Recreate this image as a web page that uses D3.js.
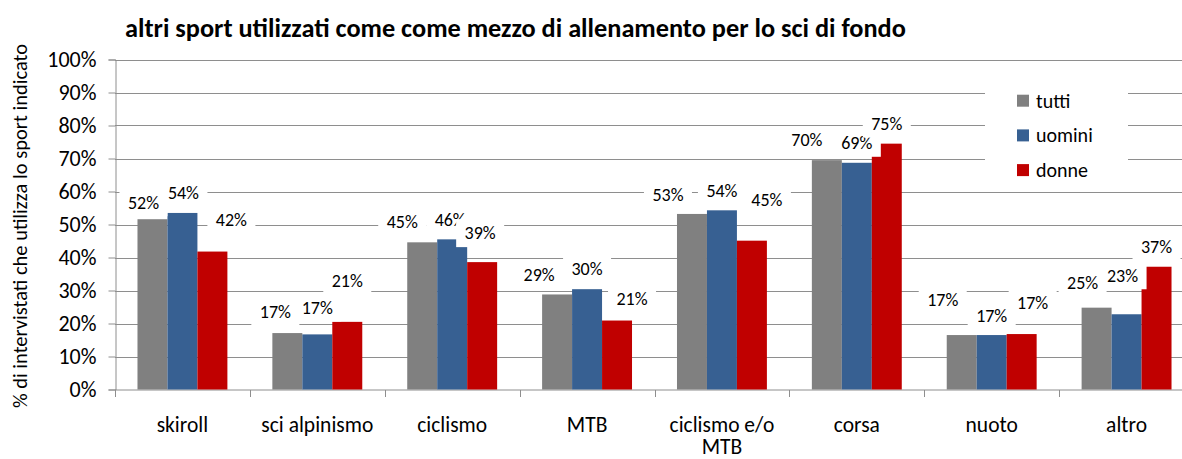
<!DOCTYPE html>
<html>
<head>
<meta charset="utf-8">
<script src="https://cdn.jsdelivr.net/npm/d3@7"></script>
<style>
  body { margin: 0; background: #fff; }
  svg text { font-family: Calibri, Carlito, Lato, sans-serif; fill: #000; }
</style>
</head>
<body>
<svg width="1182" height="459"></svg>
<script>
// data
const categories = ["skiroll", "sci alpinismo", "ciclismo", "MTB", "ciclismo e/o MTB", "corsa", "nuoto", "altro"];
const seriesNames = ["tutti", "uomini", "donne"];
const tutti  = [0.516, 0.171, 0.446, 0.288, 0.532, 0.695, 0.165, 0.248];
const uomini = [0.535, 0.167, 0.455, 0.304, 0.543, 0.687, 0.165, 0.228];
const donne  = [0.418, 0.205, 0.386, 0.209, 0.451, 0.745, 0.168, 0.372];
const yTickValues = [0, 0.1, 0.2, 0.3, 0.4, 0.5, 0.6, 0.7, 0.8, 0.9, 1];
const colors = ["#808080", "#376092", "#c00000"];

// hand moved data labels (px, relative to default spot above the bar)
const labelNudge = [
  [[-9, 3], [-12, -1], [-20, -1], [-18, 0], [-24, 1], [-20, 0], [-19, -15], [-14, -5]],
  [[1, 0], [0, -7], [-2, 0], [0, 0], [0, 0], [0, 0], [0, 1], [-4, -19]],
  [[19, -12], [0, -21], [-2, -9], [15, -2], [15, -21], [0, 0], [11, -11], [0, 0]]
];

const allSeries = [tutti, uomini, donne];
const pct = d3.format(".0%");

const svg = d3.select("svg");

const x = d3.scaleBand()
            .domain(categories)
            .range([115, 1194]);

const x1 = d3.scaleBand()
             .domain(seriesNames)
             .range([0, x.bandwidth()])
             .paddingOuter(0.75);

const y = d3.scaleLinear()
            .domain([0, 1])
            .range([389.5, 59.5]);

// gridlines
svg.append("g")
   .selectAll("line")
   .data(yTickValues.slice(1))
   .enter()
   .append("line")
   .attr("x1", 115)
   .attr("x2", 1182)
   .attr("y1", d => Math.round(y(d)) + 0.5)
   .attr("y2", d => Math.round(y(d)) + 0.5)
   .attr("stroke", "#8e8e8e")
   .attr("stroke-width", 1);

// y axis
const yAxis = d3.axisLeft(y)
                .tickValues(yTickValues)
                .tickSize(7)
                .tickPadding(12)
                .tickFormat(pct);

const gy = svg.append("g")
              .attr("transform", "translate(115.5,0)")
              .call(yAxis);
gy.select(".domain").attr("stroke", "#8e8e8e");
gy.selectAll(".tick line").attr("stroke", "#8e8e8e");
gy.selectAll(".tick text")
  .style("font-size", "22px")
  .attr("fill", "#000");

// x axis baseline and ticks at band edges
svg.append("line")
   .attr("x1", 115).attr("x2", 1182)
   .attr("y1", 390).attr("y2", 390)
   .attr("stroke", "#8e8e8e");

svg.append("g")
   .selectAll("line")
   .data(categories)
   .enter()
   .append("line")
   .attr("x1", d => Math.round(x(d)) + 0.5)
   .attr("x2", d => Math.round(x(d)) + 0.5)
   .attr("y1", 390)
   .attr("y2", 397)
   .attr("stroke", "#8e8e8e");

// bars
const groups = svg.append("g")
                  .selectAll("g")
                  .data(categories)
                  .enter()
                  .append("g")
                  .attr("transform", d => "translate(" + x(d) + ",0)");

groups.selectAll("rect")
      .data((d, i) => seriesNames.map((s, j) => ({ s: s, j: j, v: allSeries[j][i] })))
      .enter()
      .append("rect")
      .attr("x", d => x1(d.s))
      .attr("width", x1.bandwidth())
      .attr("y", d => y(d.v))
      .attr("height", d => y(0) - y(d.v))
      .attr("fill", d => colors[d.j]);

// data labels with white boxes, drawn over bars
const labels = svg.append("g");
allSeries.forEach((vals, j) => {
  vals.forEach((v, i) => {
    const cx = x(categories[i]) + x1(seriesNames[j]) + x1.bandwidth() / 2 + labelNudge[j][i][0];
    const cy = y(v) - 20 + labelNudge[j][i][1];
    const g = labels.append("g").attr("transform", "translate(" + cx + "," + cy + ")");
    g.append("rect")
     .attr("x", -24).attr("y", -14)
     .attr("width", 48).attr("height", 28)
     .attr("fill", "#fff");
    g.append("text")
     .attr("text-anchor", "middle")
     .attr("dy", "0.35em")
     .style("font-size", "18px")
     .text(pct(v));
  });
});

// category labels, wrapped when too wide
svg.append("g")
   .selectAll("text")
   .data(categories)
   .enter()
   .append("text")
   .attr("text-anchor", "middle")
   .style("font-size", "21.5px")
   .attr("x", d => x(d) + x.bandwidth() / 2)
   .attr("y", 432)
   .each(function(d) {
     const t = d3.select(this);
     const words = d.split(" ");
     let line = [];
     let tspan = t.append("tspan").attr("x", t.attr("x"));
     words.forEach(w => {
       line.push(w);
       tspan.text(line.join(" "));
       if (tspan.node().getComputedTextLength() > 128 && line.length > 1) {
         line.pop();
         tspan.text(line.join(" "));
         line = [w];
         tspan = t.append("tspan").attr("x", t.attr("x")).attr("dy", 22).text(w);
       }
     });
   });

// legend
const legend = svg.append("g");
legend.append("rect")
      .attr("x", 985).attr("y", 72)
      .attr("width", 143).attr("height", 114)
      .attr("fill", "#fff");
seriesNames.forEach((s, j) => {
  const ly = 100.7 + j * 34.7;
  legend.append("rect")
        .attr("x", 1017).attr("y", ly - 6)
        .attr("width", 12).attr("height", 12)
        .attr("fill", colors[j]);
  legend.append("text")
        .attr("x", 1036).attr("y", ly)
        .attr("dy", "0.35em")
        .style("font-size", "20px")
        .text(s);
});

// title
svg.append("text")
   .attr("x", 125)
   .attr("y", 28)
   .attr("dy", "0.35em")
   .style("font-size", "26.3px")
   .style("font-weight", "bold")
   .text("altri sport utilizzati come come mezzo di allenamento per lo sci di fondo");

// y axis title
svg.append("text")
   .attr("transform", "translate(20,226) rotate(-90)")
   .attr("text-anchor", "middle")
   .attr("dy", "0.35em")
   .style("font-size", "20.5px")
   .text("% di intervistati che utilizza lo sport indicato");
</script>
</body>
</html>
